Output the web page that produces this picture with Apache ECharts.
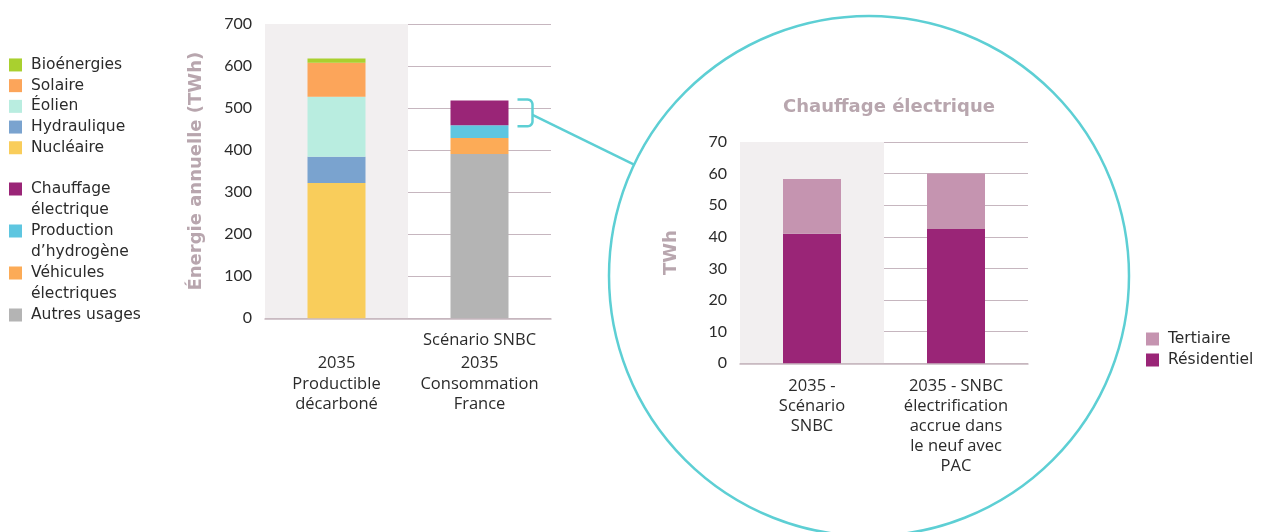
<!DOCTYPE html>
<html>
<head>
<meta charset="utf-8">
<script src="https://cdn.jsdelivr.net/npm/echarts@6/dist/echarts.min.js"></script>
<style>
  html, body { margin: 0; padding: 0; background: #ffffff; }
  #chart { width: 1264px; height: 532px; }
</style>
</head>
<body>
<div id="chart"></div>
<script>
// Énergie annuelle 2035 : productible décarboné face à la consommation (TWh)
const mainCategories = ['2035\nProductible\ndécarboné', 'Scénario SNBC\n2035\nConsommation\nFrance'];
const mainTicks = { min: 0, max: 700, interval: 100 };

// Productible (barre de gauche), de bas en haut
const productionNames = ['Nucléaire', 'Hydraulique', 'Éolien', 'Solaire', 'Bioénergies'];
const productionValues = [322, 62, 143, 81, 10];
const productionColors = ['#f9cd5b', '#7aa3cf', '#b9ede0', '#fca55a', '#a9d02f'];

// Consommation (barre de droite), de bas en haut
const consumptionNames = ['Autres usages', 'Véhicules électriques', 'Production d’hydrogène', 'Chauffage électrique'];
const consumptionValues = [391, 38, 30, 59];
const consumptionColors = ['#b4b4b4', '#fcab57', '#5ec6e0', '#9a2577'];

// Zoom sur le chauffage électrique
const heatCategories = ['2035 -\nScénario\nSNBC', '2035 - SNBC\nélectrification\naccrue dans\nle neuf avec\nPAC'];
const heatTicks = { min: 0, max: 70, interval: 10 };
const residentialValues = [41, 42.5];
const tertiaryValues = [17.3, 17.5];
const heatColors = { 'Résidentiel': '#9a2577', 'Tertiaire': '#c594b0' };

const legendLabels = {
  'Chauffage électrique': 'Chauffage\nélectrique',
  'Production d’hydrogène': 'Production\nd’hydrogène',
  'Véhicules électriques': 'Véhicules\nélectriques',
  'Autres usages': 'Autres usages\n '
};

const textColor = '#2b2b2b';
const gridColor = '#c6b6bf';
const axisNameColor = '#b8a6ae';
const bandColors = ['#f2eff0', 'rgba(255,255,255,0)'];
const accent = '#5dcfd4';
const tickFont = 'Lato';
const labelFont = 'Open Sans';
const legendFont = 'DejaVu Sans';

// Icône carrée placée en haut d'une boîte haute, pour s'aligner sur la première ligne
const tallSquare = 'path://M0,0H13V13H0Z M0,33.95H0.05V34H0Z';

const barWidth = 58;

const series = [];
productionNames.forEach((name, i) => {
  series.push({
    name, type: 'bar', stack: 'main', barWidth,
    xAxisIndex: 0, yAxisIndex: 0,
    itemStyle: { color: productionColors[i] },
    data: [productionValues[i], '-']
  });
});
consumptionNames.forEach((name, i) => {
  series.push({
    name, type: 'bar', stack: 'main', barWidth,
    xAxisIndex: 0, yAxisIndex: 0,
    itemStyle: { color: consumptionColors[i] },
    data: ['-', consumptionValues[i]]
  });
});
series.push({
  name: 'Résidentiel', type: 'bar', stack: 'heat', barWidth,
  xAxisIndex: 1, yAxisIndex: 1,
  itemStyle: { color: heatColors['Résidentiel'] },
  data: residentialValues
});
series.push({
  name: 'Tertiaire', type: 'bar', stack: 'heat', barWidth,
  xAxisIndex: 1, yAxisIndex: 1,
  itemStyle: { color: heatColors['Tertiaire'] },
  data: tertiaryValues
});

function valueAxis(ticks, gridIndex, name, nameGap) {
  return {
    type: 'value', gridIndex,
    min: ticks.min, max: ticks.max, interval: ticks.interval,
    name, nameLocation: 'middle', nameRotate: 90, nameGap,
    nameTextStyle: { color: axisNameColor, fontFamily: legendFont, fontWeight: 'bold', fontSize: 18 },
    axisLine: { show: false }, axisTick: { show: false },
    axisLabel: { color: textColor, fontFamily: tickFont, fontSize: 16, margin: 13 },
    splitLine: { lineStyle: { color: gridColor, width: 1 } }
  };
}

function categoryAxis(data, gridIndex, labelOpts) {
  return {
    type: 'category', gridIndex, data,
    axisLine: { lineStyle: { color: gridColor, width: 1.5 } },
    axisTick: { show: false },
    splitArea: { show: true, areaStyle: { color: bandColors } },
    axisLabel: Object.assign({ interval: 0, color: textColor, fontFamily: labelFont, fontSize: 16.5 }, labelOpts)
  };
}

const option = {
  animation: false,
  backgroundColor: '#ffffff',
  title: {
    text: 'Chauffage électrique',
    left: 884, top: 93, textAlign: 'center',
    textStyle: { color: axisNameColor, fontFamily: legendFont, fontWeight: 'bold', fontSize: 18 }
  },
  grid: [
    { left: 265, top: 24, width: 286, height: 294.3 },
    { left: 740, top: 142, width: 288, height: 221.3 }
  ],
  xAxis: [
    categoryAxis(mainCategories, 0, {
      margin: 8.2,
      formatter: (v) => {
        const lines = v.split('\n');
        if (lines.length === 3) lines.unshift(' ');
        return lines.map((l, i) => (i === 0 ? '{a|' + l + '}' : '{b|' + l + '}')).join('\n');
      },
      rich: {
        a: { color: textColor, fontFamily: labelFont, fontSize: 16.5, lineHeight: 27, align: 'center' },
        b: { color: textColor, fontFamily: labelFont, fontSize: 16.5, lineHeight: 20.5, align: 'center' }
      }
    }),
    categoryAxis(heatCategories, 1, { margin: 12.5, lineHeight: 20 })
  ],
  yAxis: [
    valueAxis(mainTicks, 0, 'Énergie annuelle (TWh)', 60),
    valueAxis(heatTicks, 1, 'TWh', 60)
  ],
  legend: [
    {
      orient: 'vertical', left: 9, top: 54.6, padding: 0, itemGap: 0,
      itemWidth: 13, itemHeight: 13, icon: 'rect', selectedMode: false,
      data: ['Bioénergies', 'Solaire', 'Éolien', 'Hydraulique', 'Nucléaire'],
      textStyle: { color: textColor, fontFamily: legendFont, fontSize: 15.5, lineHeight: 20.7, padding: [0, 0, 0, 4] }
    },
    {
      orient: 'vertical', left: 9, top: 178.5, padding: 0, itemGap: 0,
      itemWidth: 13, itemHeight: 34, selectedMode: false,
      data: consumptionNames.slice().reverse().map((n) => ({ name: n, icon: tallSquare })),
      formatter: (n) => legendLabels[n] || n,
      textStyle: { color: textColor, fontFamily: legendFont, fontSize: 15.5, lineHeight: 21, padding: [0, 0, 0, 4] }
    },
    {
      orient: 'vertical', left: 1146, top: 328.5, padding: 0, itemGap: 0,
      itemWidth: 13, itemHeight: 13, icon: 'rect', selectedMode: false,
      data: ['Tertiaire', 'Résidentiel'],
      textStyle: { color: textColor, fontFamily: legendFont, fontSize: 15.5, lineHeight: 21, padding: [0, 0, 0, 4] }
    }
  ],
  series
};

const chart = echarts.init(document.getElementById('chart'), null, { renderer: 'canvas' });
chart.setOption(option);

// Loupe : accolade sur le segment chauffage, trait de liaison et cercle du zoom
const lens = { cx: 869, cy: 276, r: 260, angle: Math.atan2(-112, -236) };
const consTotal = consumptionValues.reduce((a, b) => a + b, 0);
const heatBase = consTotal - consumptionValues[consumptionValues.length - 1];
const pTop = chart.convertToPixel({ xAxisIndex: 0, yAxisIndex: 0 }, [1, consTotal]);
const pBot = chart.convertToPixel({ xAxisIndex: 0, yAxisIndex: 0 }, [1, heatBase]);
const bx0 = pTop[0] + barWidth / 2 + 9;
const bx1 = bx0 + 15;
const yT = pTop[1] - 1;
const yB = pBot[1] + 1;
const yM = (yT + yB) / 2 + 2;
const rc = 5;

// Accolade : segments droits avec coins arrondis (quarts de cercle échantillonnés)
function corner(cx, cy, a0, a1) {
  const pts = [];
  for (let k = 0; k <= 6; k++) {
    const a = a0 + (a1 - a0) * k / 6;
    pts.push([cx + rc * Math.cos(a), cy + rc * Math.sin(a)]);
  }
  return pts;
}
const bracketPts = [[bx0, yT]]
  .concat(corner(bx1 - rc, yT + rc, -Math.PI / 2, 0))
  .concat(corner(bx1 - rc, yB - rc, 0, Math.PI / 2))
  .concat([[bx0, yB]]);

const lensPt = [lens.cx + lens.r * Math.cos(lens.angle), lens.cy + lens.r * Math.sin(lens.angle)];

chart.setOption({
  graphic: [
    {
      type: 'circle', z: 1, silent: true,
      shape: { cx: lens.cx, cy: lens.cy, r: lens.r },
      style: { fill: 'none', stroke: accent, lineWidth: 2.5 }
    },
    {
      type: 'polyline', z: 1, silent: true,
      shape: { points: bracketPts },
      style: { fill: 'none', stroke: accent, lineWidth: 2.5 }
    },
    {
      type: 'line', z: 1, silent: true,
      shape: { x1: bx1, y1: yM, x2: lensPt[0], y2: lensPt[1] },
      style: { stroke: accent, lineWidth: 2.5 }
    }
  ]
});
</script>
</body>
</html>
